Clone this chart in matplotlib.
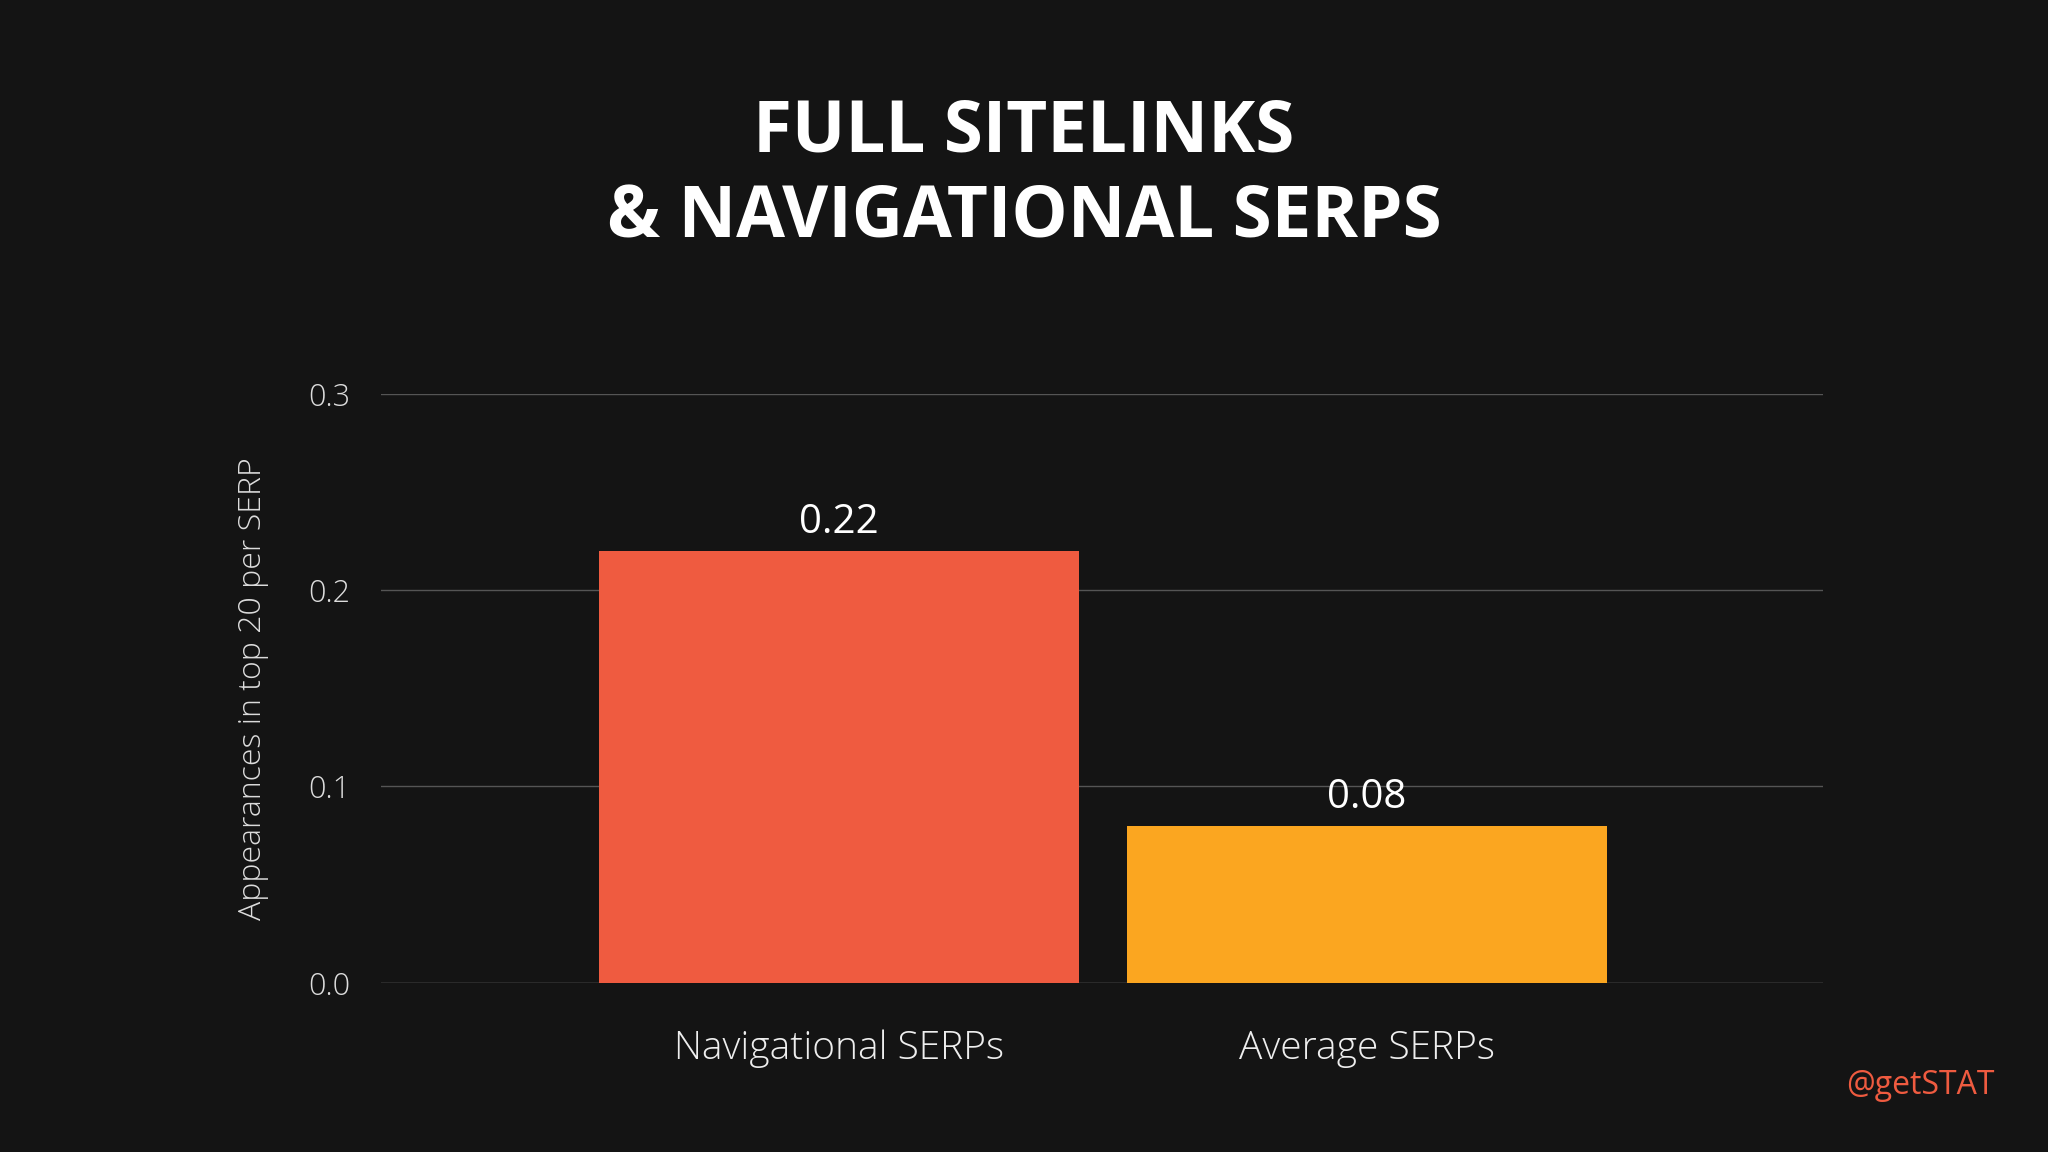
import matplotlib.pyplot as plt

categories = ["Navigational SERPs", "Average SERPs"]
values = [0.22, 0.08]
value_labels = ["0.22", "0.08"]
colors = ["#EF5B40", "#FBA620"]
yticks = [0.0, 0.1, 0.2, 0.3]

bg = "#141414"
plt.rcParams["font.family"] = ["Open Sans", "DejaVu Sans"]

fig = plt.figure(figsize=(20.48, 11.52), dpi=100, facecolor=bg)
ax = fig.add_axes([0.186, 0.147, 0.704, 0.511], facecolor=bg)

x = list(range(len(categories)))
ax.bar(x, values, width=0.908, color=colors, zorder=3)
for xi, v, lab in zip(x, values, value_labels):
    ax.text(xi, v + 0.004, lab, ha="center", va="bottom", color="white", fontsize=29)

ax.set_xlim(-0.868, 1.863)
ax.set_ylim(0, 0.3)
ax.set_yticks(yticks)
ax.set_yticklabels([f"{t:.1f}" for t in yticks], color="#dddddd", fontsize=22, fontweight="light")
ax.set_xticks(x)
ax.set_xticklabels(categories, color="#eeeeee", fontsize=28, fontweight="light")
ax.tick_params(length=0, pad=22)
ax.tick_params(axis="x", pad=34)
ax.grid(axis="y", color="#555555", linewidth=1, zorder=0)
ax.axhline(0, color="#555555", linewidth=1, zorder=1)
for s in ax.spines.values():
    s.set_visible(False)
ax.set_ylabel("Appearances in top 20 per SERP", color="#dddddd", fontsize=23,
              fontweight="light", labelpad=28)

fig.text(0.5, 0.885, "FULL SITELINKS", ha="center", va="center", color="white",
         fontsize=51, fontweight="bold")
fig.text(0.5, 0.81, "& NAVIGATIONAL SERPS", ha="center", va="center", color="white",
         fontsize=51, fontweight="bold")
fig.text(0.974, 0.058, "@getSTAT", ha="right", va="center", color="#EF5B40", fontsize=23)

fig.savefig("out.png", dpi=100, facecolor=bg)
